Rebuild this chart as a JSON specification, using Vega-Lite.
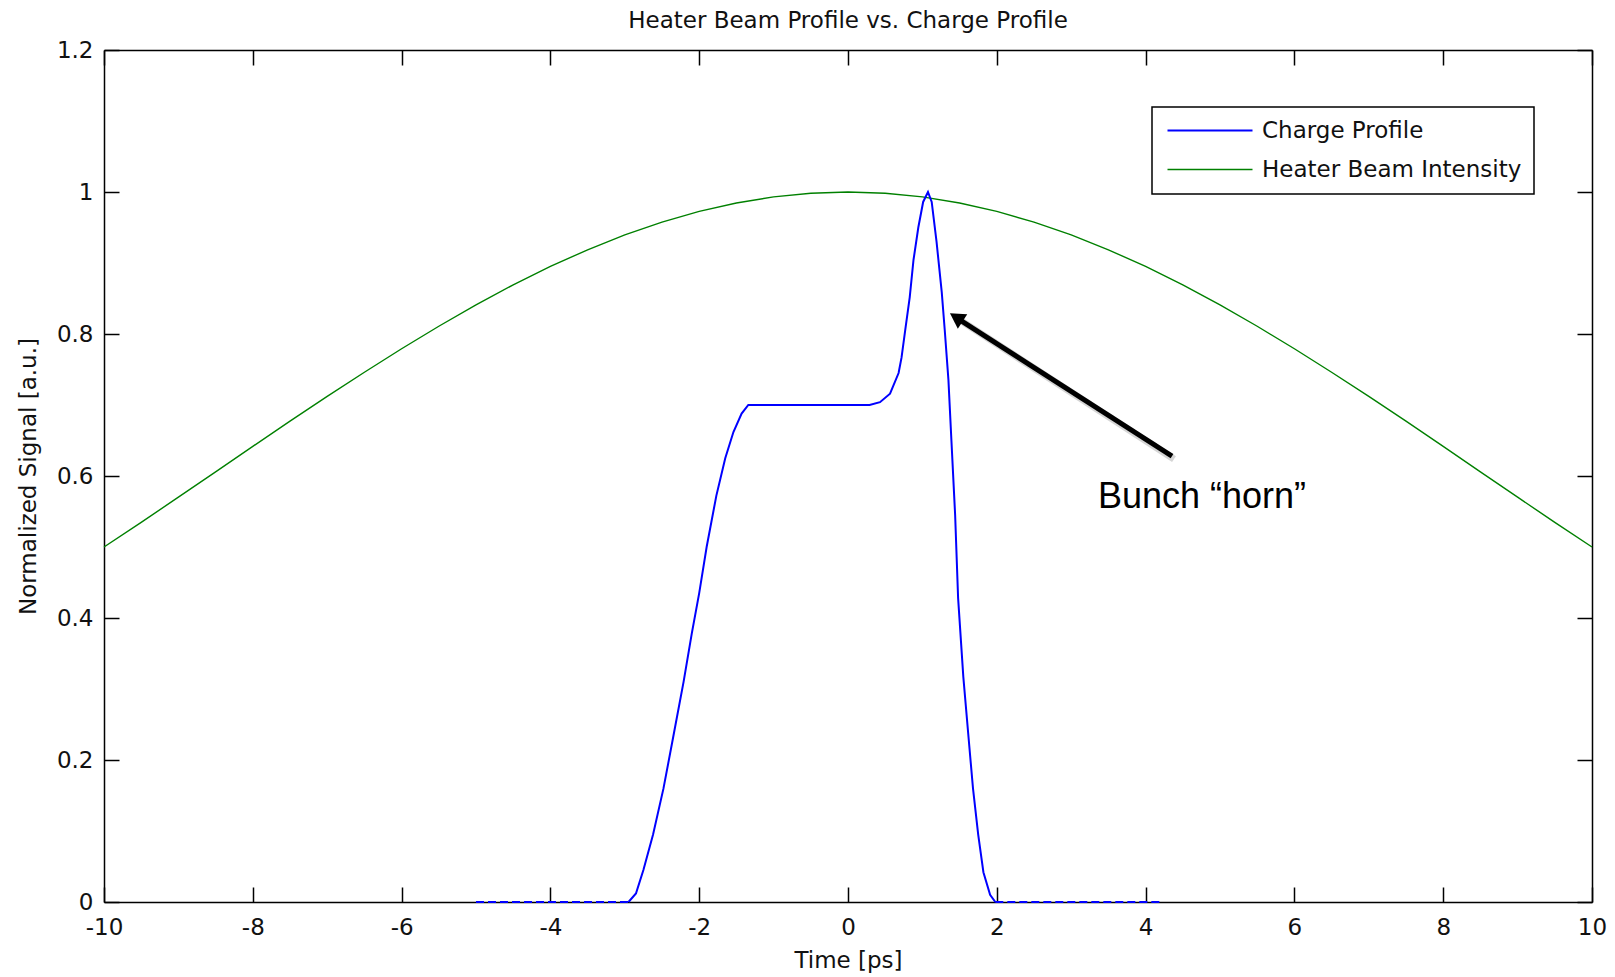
{
  "$schema": "https://vega.github.io/schema/vega-lite/v6.json",
  "width": 1488,
  "height": 852,
  "autosize": {"type": "none"},
  "padding": {"left": 104, "top": 50, "right": 23, "bottom": 75},
  "background": "white",
  "title": {"text": "Heater Beam Profile vs. Charge Profile", "font": "DejaVu Sans", "fontSize": 23, "fontWeight": "normal", "color": "#111111", "baseline": "alphabetic", "offset": -12, "anchor": "middle"},
  "config": {"view": {"stroke": null}, "legend": {"strokeWidth": 1.5}},
  "datasets": {
    "curves": [
      {"series": "Heater Beam Intensity", "t": -10, "v": 0.5},
      {"series": "Heater Beam Intensity", "t": -9.5, "v": 0.5347},
      {"series": "Heater Beam Intensity", "t": -9, "v": 0.5702},
      {"series": "Heater Beam Intensity", "t": -8.5, "v": 0.6059},
      {"series": "Heater Beam Intensity", "t": -8, "v": 0.6417},
      {"series": "Heater Beam Intensity", "t": -7.5, "v": 0.6773},
      {"series": "Heater Beam Intensity", "t": -7, "v": 0.7122},
      {"series": "Heater Beam Intensity", "t": -6.5, "v": 0.7461},
      {"series": "Heater Beam Intensity", "t": -6, "v": 0.7792},
      {"series": "Heater Beam Intensity", "t": -5.5, "v": 0.8109},
      {"series": "Heater Beam Intensity", "t": -5, "v": 0.8409},
      {"series": "Heater Beam Intensity", "t": -4.5, "v": 0.8693},
      {"series": "Heater Beam Intensity", "t": -4, "v": 0.8951},
      {"series": "Heater Beam Intensity", "t": -3.5, "v": 0.9186},
      {"series": "Heater Beam Intensity", "t": -3, "v": 0.9395},
      {"series": "Heater Beam Intensity", "t": -2.5, "v": 0.9576},
      {"series": "Heater Beam Intensity", "t": -2, "v": 0.9727},
      {"series": "Heater Beam Intensity", "t": -1.5, "v": 0.9845},
      {"series": "Heater Beam Intensity", "t": -1, "v": 0.9931},
      {"series": "Heater Beam Intensity", "t": -0.5, "v": 0.9983},
      {"series": "Heater Beam Intensity", "t": 0, "v": 1.0},
      {"series": "Heater Beam Intensity", "t": 0.5, "v": 0.9983},
      {"series": "Heater Beam Intensity", "t": 1, "v": 0.9931},
      {"series": "Heater Beam Intensity", "t": 1.5, "v": 0.9845},
      {"series": "Heater Beam Intensity", "t": 2, "v": 0.9727},
      {"series": "Heater Beam Intensity", "t": 2.5, "v": 0.9576},
      {"series": "Heater Beam Intensity", "t": 3, "v": 0.9395},
      {"series": "Heater Beam Intensity", "t": 3.5, "v": 0.9186},
      {"series": "Heater Beam Intensity", "t": 4, "v": 0.8951},
      {"series": "Heater Beam Intensity", "t": 4.5, "v": 0.8693},
      {"series": "Heater Beam Intensity", "t": 5, "v": 0.8409},
      {"series": "Heater Beam Intensity", "t": 5.5, "v": 0.8109},
      {"series": "Heater Beam Intensity", "t": 6, "v": 0.7792},
      {"series": "Heater Beam Intensity", "t": 6.5, "v": 0.7461},
      {"series": "Heater Beam Intensity", "t": 7, "v": 0.7122},
      {"series": "Heater Beam Intensity", "t": 7.5, "v": 0.6773},
      {"series": "Heater Beam Intensity", "t": 8, "v": 0.6417},
      {"series": "Heater Beam Intensity", "t": 8.5, "v": 0.6059},
      {"series": "Heater Beam Intensity", "t": 9, "v": 0.5702},
      {"series": "Heater Beam Intensity", "t": 9.5, "v": 0.5347},
      {"series": "Heater Beam Intensity", "t": 10, "v": 0.5},
      {"series": "Charge Profile", "t": -2.95, "v": 0},
      {"series": "Charge Profile", "t": -2.85, "v": 0.012},
      {"series": "Charge Profile", "t": -2.75, "v": 0.045},
      {"series": "Charge Profile", "t": -2.62, "v": 0.095},
      {"series": "Charge Profile", "t": -2.48, "v": 0.16},
      {"series": "Charge Profile", "t": -2.35, "v": 0.232},
      {"series": "Charge Profile", "t": -2.21, "v": 0.31},
      {"series": "Charge Profile", "t": -2.1, "v": 0.378},
      {"series": "Charge Profile", "t": -2.0, "v": 0.435},
      {"series": "Charge Profile", "t": -1.9, "v": 0.5},
      {"series": "Charge Profile", "t": -1.77, "v": 0.572},
      {"series": "Charge Profile", "t": -1.65, "v": 0.625},
      {"series": "Charge Profile", "t": -1.54, "v": 0.662},
      {"series": "Charge Profile", "t": -1.43, "v": 0.688},
      {"series": "Charge Profile", "t": -1.34, "v": 0.7},
      {"series": "Charge Profile", "t": 0.29, "v": 0.7},
      {"series": "Charge Profile", "t": 0.43, "v": 0.704},
      {"series": "Charge Profile", "t": 0.565, "v": 0.716},
      {"series": "Charge Profile", "t": 0.68, "v": 0.745},
      {"series": "Charge Profile", "t": 0.72, "v": 0.767},
      {"series": "Charge Profile", "t": 0.77, "v": 0.806},
      {"series": "Charge Profile", "t": 0.83, "v": 0.852},
      {"series": "Charge Profile", "t": 0.88, "v": 0.904},
      {"series": "Charge Profile", "t": 0.945, "v": 0.95},
      {"series": "Charge Profile", "t": 1.01, "v": 0.986},
      {"series": "Charge Profile", "t": 1.075, "v": 1.0},
      {"series": "Charge Profile", "t": 1.125, "v": 0.986},
      {"series": "Charge Profile", "t": 1.19, "v": 0.93},
      {"series": "Charge Profile", "t": 1.26, "v": 0.859},
      {"series": "Charge Profile", "t": 1.3, "v": 0.806},
      {"series": "Charge Profile", "t": 1.35, "v": 0.735},
      {"series": "Charge Profile", "t": 1.39, "v": 0.65},
      {"series": "Charge Profile", "t": 1.44, "v": 0.545},
      {"series": "Charge Profile", "t": 1.48, "v": 0.428},
      {"series": "Charge Profile", "t": 1.55, "v": 0.317},
      {"series": "Charge Profile", "t": 1.62, "v": 0.232},
      {"series": "Charge Profile", "t": 1.68, "v": 0.16},
      {"series": "Charge Profile", "t": 1.75, "v": 0.095},
      {"series": "Charge Profile", "t": 1.82, "v": 0.042},
      {"series": "Charge Profile", "t": 1.91, "v": 0.01},
      {"series": "Charge Profile", "t": 1.98, "v": 0}
    ],
    "baseline": [
      {"seg": "a", "t": -5.0, "v": 0},
      {"seg": "a", "t": -2.95, "v": 0},
      {"seg": "b", "t": 1.98, "v": 0},
      {"seg": "b", "t": 4.2, "v": 0}
    ],
    "arrow": [
      {"t": 4.355, "v": 0.628, "t2": 1.455, "v2": 0.823}
    ],
    "head": [
      {"t": 1.455, "v": 0.8234}
    ],
    "note": [
      {"t": 3.36, "v": 0.555, "label": "Bunch “horn”"}
    ]
  },
  "layer": [
    {
      "data": {"name": "curves"},
      "mark": {"type": "line"},
      "encoding": {
        "x": {"field": "t", "type": "quantitative", "scale": {"domain": [-10, 10], "nice": false, "zero": false},
          "axis": {"orient": "bottom", "values": [-10, -8, -6, -4, -2, 0, 2, 4, 6, 8, 10], "labelExpr": "'' + datum.value", "labelFont": "DejaVu Sans", "labelFontSize": 23, "labelColor": "#111111", "labelFlush": false, "labelPadding": 14, "labelBaseline": "top", "ticks": false, "domain": true, "domainColor": "black", "domainWidth": 1.5, "grid": false, "title": "Time [ps]", "titleFont": "DejaVu Sans", "titleFontSize": 23, "titleFontWeight": "normal", "titleColor": "#111111", "titleX": 744, "titleY": 58, "titleBaseline": "middle", "titleAlign": "center"}},
        "y": {"field": "v", "type": "quantitative", "scale": {"domain": [0, 1.2], "nice": false, "zero": false},
          "axis": {"orient": "left", "values": [0, 0.2, 0.4, 0.6, 0.8, 1, 1.2], "labelExpr": "'' + datum.value", "labelFont": "DejaVu Sans", "labelFontSize": 23, "labelColor": "#111111", "labelFlush": false, "labelPadding": 11, "labelAlign": "right", "labelBaseline": "middle", "ticks": false, "domain": true, "domainColor": "black", "domainWidth": 1.5, "grid": false, "title": "Normalized Signal [a.u.]", "titleFont": "DejaVu Sans", "titleFontSize": 23, "titleFontWeight": "normal", "titleColor": "#111111", "titleX": -76, "titleY": 426, "titleAngle": -90, "titleBaseline": "middle", "titleAlign": "center"}},
        "color": {"field": "series", "type": "nominal", "scale": {"domain": ["Charge Profile", "Heater Beam Intensity"], "range": ["#0000ff", "#008000"]},
          "legend": {"orient": "none", "legendX": 1048, "legendY": 57, "title": null, "symbolType": "M-2,0H19.25", "symbolSize": 64, "symbolStrokeWidth": 1.5, "labelFont": "DejaVu Sans", "labelFontSize": 23, "labelColor": "#111111", "labelLimit": 0, "labelOffset": 75, "padding": 12, "rowPadding": 15, "strokeColor": "black", "fillColor": "white", "labelBaseline": "middle"}},
        "strokeWidth": {"field": "series", "type": "nominal", "scale": {"domain": ["Charge Profile", "Heater Beam Intensity"], "range": [2, 1.4]}, "legend": null}
      }
    },
    {
      "data": {"name": "baseline"},
      "mark": {"type": "line", "color": "#0000ff", "strokeWidth": 2.2, "strokeDash": [8, 4]},
      "encoding": {
        "x": {"field": "t", "type": "quantitative",
          "axis": {"orient": "top", "values": [-10, -8, -6, -4, -2, 0, 2, 4, 6, 8, 10], "labels": false, "ticks": true, "tickSize": -15, "tickColor": "black", "tickWidth": 1.5, "domain": true, "domainColor": "black", "domainWidth": 1.5, "grid": false, "title": null}},
        "y": {"field": "v", "type": "quantitative",
          "axis": {"orient": "right", "values": [0, 0.2, 0.4, 0.6, 0.8, 1, 1.2], "labels": false, "ticks": true, "tickSize": -15, "tickColor": "black", "tickWidth": 1.5, "domain": true, "domainColor": "black", "domainWidth": 1.5, "grid": false, "title": null}},
        "detail": {"field": "seg", "type": "nominal"}
      }
    },
    {
      "data": {"name": "arrow"},
      "mark": {"type": "rule", "color": "#888888", "opacity": 0.35, "strokeWidth": 7, "xOffset": 2, "yOffset": 3},
      "encoding": {
        "x": {"field": "t", "type": "quantitative", "axis": null},
        "y": {"field": "v", "type": "quantitative", "axis": null},
        "x2": {"field": "t2"},
        "y2": {"field": "v2"}
      }
    },
    {
      "data": {"name": "arrow"},
      "mark": {"type": "rule", "color": "black", "strokeWidth": 5},
      "encoding": {
        "x": {"field": "t", "type": "quantitative",
          "axis": {"orient": "bottom", "values": [-10, -8, -6, -4, -2, 0, 2, 4, 6, 8, 10], "labels": false, "ticks": true, "tickSize": -15, "tickColor": "black", "tickWidth": 1.5, "domain": false, "grid": false, "title": null}},
        "y": {"field": "v", "type": "quantitative",
          "axis": {"orient": "left", "values": [0, 0.2, 0.4, 0.6, 0.8, 1, 1.2], "labels": false, "ticks": true, "tickSize": -15, "tickColor": "black", "tickWidth": 1.5, "domain": false, "grid": false, "title": null}},
        "x2": {"field": "t2"},
        "y2": {"field": "v2"}
      }
    },
    {
      "data": {"name": "head"},
      "mark": {"type": "point", "shape": "triangle-up", "filled": true, "color": "black", "opacity": 1, "size": 300, "angle": 303},
      "encoding": {
        "x": {"field": "t", "type": "quantitative", "axis": null},
        "y": {"field": "v", "type": "quantitative", "axis": null}
      }
    },
    {
      "data": {"name": "note"},
      "mark": {"type": "text", "font": "Liberation Sans", "fontSize": 36, "align": "left", "baseline": "alphabetic", "color": "black"},
      "encoding": {
        "x": {"field": "t", "type": "quantitative", "axis": null},
        "y": {"field": "v", "type": "quantitative", "axis": null},
        "text": {"field": "label"}
      }
    }
  ],
  "resolve": {"axis": {"x": "independent", "y": "independent"}}
}
